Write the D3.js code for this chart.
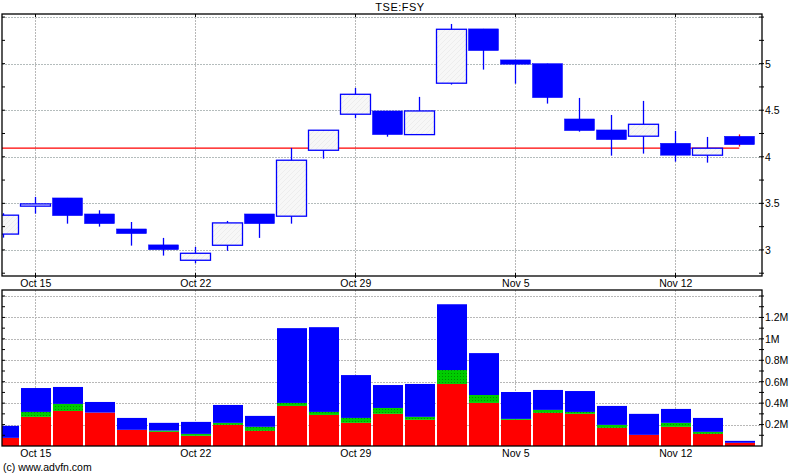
<!DOCTYPE html>
<html><head><meta charset="utf-8">
<script src="https://cdn.jsdelivr.net/npm/d3@7"></script>
<style>body{margin:0;background:#fff}svg{display:block}text{font-family:"Liberation Sans",Arial,sans-serif;fill:#000}</style>
</head><body><svg id="c" width="800" height="475"></svg>
<script>
const dates = ["Oct 12","Oct 15","Oct 16","Oct 17","Oct 18","Oct 19","Oct 22","Oct 23","Oct 24","Oct 25","Oct 26","Oct 29","Oct 30","Oct 31","Nov 1","Nov 2","Nov 5","Nov 6","Nov 7","Nov 8","Nov 9","Nov 12","Nov 13","Nov 14"];
const openP  = [3.17,3.47,3.558,3.386,3.225,3.054,2.889,3.05,3.386,3.362,4.07,4.457,4.492,4.238,4.79,5.373,5.04,5.0,4.406,4.288,4.221,4.145,4.017,4.22];
const closeP = [3.373,3.494,3.368,3.282,3.175,3.003,2.964,3.29,3.282,3.963,4.285,4.671,4.238,4.492,5.369,5.14,4.994,4.635,4.281,4.184,4.349,4.017,4.092,4.13];
const highP  = [3.394,3.569,3.558,3.426,3.30,3.129,3.032,3.311,3.386,4.095,4.285,4.739,4.492,4.643,5.426,5.373,5.04,5.0,4.632,4.449,4.6,4.278,4.213,4.24];
const lowP   = [3.132,3.39,3.282,3.25,3.046,2.939,2.857,2.99,3.129,3.282,3.98,4.414,4.216,4.238,4.775,4.936,4.785,4.571,4.27,4.012,4.034,3.948,3.937,4.11];
const volRed   = [76,272,327,312,151,132,95,197,141,374,290,216,300,244,579,402,244,309,300,169,104,179,113,30].map(v=>v*1000);
const volGreen = [0,46,66,0,0,12,18,19,38,28,28,46,55,28,130,74,9,28,18,28,0,37,19,0].map(v=>v*1000);
const volBlue  = [112,223,158,99,111,72,112,167,102,698,791,400,214,307,614,391,251,186,195,177,196,130,130,18].map(v=>v*1000);
const weekTicks = [1,6,11,16,21];
const priceTicks = [3,3.5,4,4.5,5];
const priceGrid = [3,3.5,4,4.5,5,5.5];
const priceMinor = [2.75,3,3.25,3.5,3.75,4,4.25,4.5,4.75,5,5.25,5.5];
const volTicks = [200000,400000,600000,800000,1000000,1200000];
const volGrid = [200000,400000,600000,800000,1000000,1200000,1400000];
const volMinor = d3.range(100000,1450000,100000);
const refPrice = 4.093;
const title = "TSE:FSY";

const svg = d3.select("#c");
const L=2,R=762, pT=14,pB=276, vT=290,vB=446;
const x = d3.scaleLinear().domain([-0.04,23.71]).range([L,R]);
const y = d3.scaleLinear().domain([2.72,5.533]).range([pB,pT]);
const yv = d3.scaleLinear().domain([0,1456000]).range([vB,vT]);
const W = 30;

const defs = svg.append("defs");
const ph = defs.append("pattern").attr("id","hol").attr("patternUnits","userSpaceOnUse").attr("width",5).attr("height",5);
ph.append("rect").attr("width",5).attr("height",5).attr("fill","#f7f7f7");
ph.append("path").attr("d","M0,5L5,0").attr("stroke","#ededed").attr("stroke-width",1);
const pg = defs.append("pattern").attr("id","grn").attr("patternUnits","userSpaceOnUse").attr("width",3).attr("height",3);
pg.append("rect").attr("width",3).attr("height",3).attr("fill","#00cc00");
pg.append("rect").attr("x",1).attr("y",1).attr("width",1).attr("height",1).attr("fill","#009000");
defs.append("clipPath").attr("id","cp").append("rect").attr("x",L).attr("y",pT).attr("width",R-L).attr("height",pB-pT);
defs.append("clipPath").attr("id","cv").append("rect").attr("x",L).attr("y",vT).attr("width",R-L).attr("height",vB-vT);

// title
svg.append("text").attr("x",400).attr("y",11).attr("text-anchor","middle").attr("font-size",11).attr("letter-spacing","0.5px").text(title);

// price grid
const gP = svg.append("g");
gP.selectAll("line.h").data(priceGrid).join("line").attr("x1",L).attr("x2",R).attr("y1",d=>Math.round(y(d))+0.5).attr("y2",d=>Math.round(y(d))+0.5).attr("stroke","#b4bcbc").attr("stroke-dasharray","2,1");
gP.selectAll("line.v").data(weekTicks).join("line").attr("x1",d=>Math.round(x(d))+0.5).attr("x2",d=>Math.round(x(d))+0.5).attr("y1",pT).attr("y2",pB).attr("stroke","#b8b8b8").attr("stroke-dasharray","2,1");

// candles
const gc = svg.append("g").attr("clip-path","url(#cp)");
const idx = d3.range(dates.length);
const last = dates.length-1;
gc.append("line").attr("x1",L).attr("x2",x(last)).attr("y1",y(refPrice)).attr("y2",y(refPrice)).attr("stroke","#ff0000").attr("stroke-width",1.2);
gc.selectAll("line.w").data(idx).join("line").attr("x1",i=>Math.round(x(i))+0.5).attr("x2",i=>Math.round(x(i))+0.5)
  .attr("y1",i=>y(highP[i])).attr("y2",i=>y(lowP[i])).attr("stroke",i=>i===last?"#ff0000":"#0000ff").attr("stroke-width",1.3);
gc.selectAll("rect.c").data(idx).join("rect")
  .attr("x",i=>Math.round(x(i))-W/2+0.5).attr("width",W)
  .attr("y",i=>y(Math.max(openP[i],closeP[i]))).attr("height",i=>Math.max(1,Math.abs(y(openP[i])-y(closeP[i]))))
  .attr("fill",i=>closeP[i]>=openP[i]?"url(#hol)":"#0000ff")
  .attr("stroke","#0000ff").attr("stroke-width",i=>closeP[i]>=openP[i]?1.3:0.5);

// price axis
svg.append("rect").attr("x",L).attr("y",pT).attr("width",R-L).attr("height",pB-pT).attr("fill","none").attr("stroke","#000").attr("stroke-width",1.3);
const ay = d3.axisRight(y).tickValues(priceTicks).tickSize(0).tickPadding(3).tickFormat(d3.format(""));
const gay = svg.append("g").attr("transform",`translate(${R},0)`).call(ay);
gay.select(".domain").remove();
gay.selectAll("text").attr("font-size",10.5).attr("font-family","Liberation Sans, Arial, sans-serif");
svg.append("g").selectAll("line").data(priceMinor).join("line").attr("x1",R-3).attr("x2",R+2).attr("y1",d=>y(d)).attr("y2",d=>y(d)).attr("stroke","#000");
svg.append("g").selectAll("line").data(priceMinor).join("line").attr("x1",L).attr("x2",L+3).attr("y1",d=>y(d)).attr("y2",d=>y(d)).attr("stroke","#000");
const ax = d3.axisBottom(x).tickValues(weekTicks).tickSize(0).tickPadding(4).tickFormat(i=>dates[i]);
const gax = svg.append("g").attr("transform",`translate(0,${pB})`).call(ax);
gax.select(".domain").remove();
gax.selectAll("text").attr("font-size",10.5).attr("font-family","Liberation Sans, Arial, sans-serif");
svg.append("g").selectAll("line").data(weekTicks).join("line").attr("x1",d=>Math.round(x(d))+0.5).attr("x2",d=>Math.round(x(d))+0.5).attr("y1",pT).attr("y2",pT+3).attr("stroke","#000");
svg.append("g").selectAll("line").data(weekTicks).join("line").attr("x1",d=>Math.round(x(d))+0.5).attr("x2",d=>Math.round(x(d))+0.5).attr("y1",pB-3).attr("y2",pB+2).attr("stroke","#000");

// volume grid
const gV = svg.append("g");
gV.selectAll("line.h").data(volGrid).join("line").attr("x1",L).attr("x2",R).attr("y1",d=>Math.round(yv(d))+0.5).attr("y2",d=>Math.round(yv(d))+0.5).attr("stroke","#b8b8b8").attr("stroke-dasharray","2,1");
gV.selectAll("line.v").data(weekTicks).join("line").attr("x1",d=>Math.round(x(d))+0.5).attr("x2",d=>Math.round(x(d))+0.5).attr("y1",vT).attr("y2",vB).attr("stroke","#b8b8b8").attr("stroke-dasharray","2,1");

// volume bars
const gb = svg.append("g").attr("clip-path","url(#cv)");
const bx = i=>Math.round(x(i))-W/2+1;
gb.selectAll("rect.r").data(idx).join("rect").attr("x",bx).attr("width",W).attr("y",i=>yv(volRed[i])).attr("height",i=>yv(0)-yv(volRed[i])).attr("fill","#ff0000");
gb.selectAll("rect.g").data(idx).join("rect").attr("x",bx).attr("width",W).attr("y",i=>yv(volRed[i]+volGreen[i])).attr("height",i=>yv(volRed[i])-yv(volRed[i]+volGreen[i])).attr("fill","url(#grn)");
gb.selectAll("rect.b").data(idx).join("rect").attr("x",bx).attr("width",W).attr("y",i=>yv(volRed[i]+volGreen[i]+volBlue[i])).attr("height",i=>yv(volRed[i]+volGreen[i])-yv(volRed[i]+volGreen[i]+volBlue[i])).attr("fill","#0000ff");

svg.append("rect").attr("x",L).attr("y",vT).attr("width",R-L).attr("height",vB-vT).attr("fill","none").attr("stroke","#000").attr("stroke-width",1.3);
const ayv = d3.axisRight(yv).tickValues(volTicks).tickSize(0).tickPadding(3).tickFormat(d=>(d/1e6)+"M");
const gayv = svg.append("g").attr("transform",`translate(${R},0)`).call(ayv);
gayv.select(".domain").remove();
gayv.selectAll("text").attr("font-size",10.5).attr("font-family","Liberation Sans, Arial, sans-serif");
svg.append("g").selectAll("line").data(volMinor).join("line").attr("x1",R-3).attr("x2",R+2).attr("y1",d=>yv(d)).attr("y2",d=>yv(d)).attr("stroke","#000");
svg.append("g").selectAll("line").data(volMinor).join("line").attr("x1",L).attr("x2",L+3).attr("y1",d=>yv(d)).attr("y2",d=>yv(d)).attr("stroke","#000");
const axv = d3.axisBottom(x).tickValues(weekTicks).tickSize(0).tickPadding(4).tickFormat(i=>dates[i]);
const gaxv = svg.append("g").attr("transform",`translate(0,${vB})`).call(axv);
gaxv.select(".domain").remove();
gaxv.selectAll("text").attr("font-size",10.5).attr("font-family","Liberation Sans, Arial, sans-serif");

svg.append("text").attr("x",3).attr("y",471).attr("font-size",10.5).text("(c) www.advfn.com");
</script></body></html>
